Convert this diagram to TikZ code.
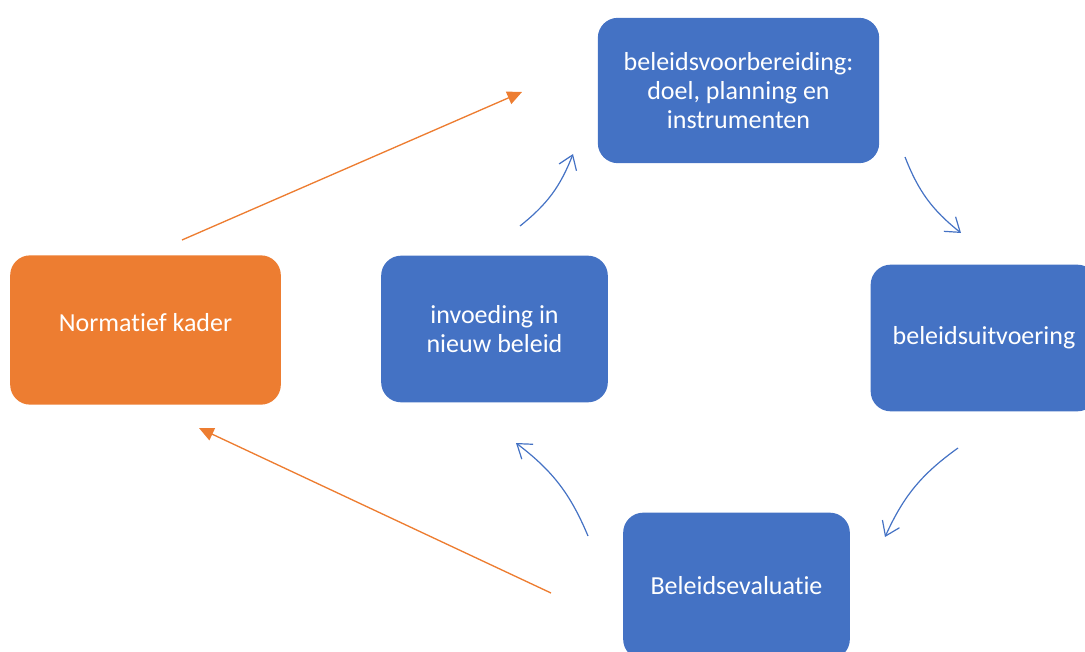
\documentclass[tikz,border=0pt]{standalone}
\usepackage{fontspec}
\setmainfont{Carlito}[Ligatures=NoCommon]
\usetikzlibrary{arrows.meta}
\definecolor{boxblue}{HTML}{4472C4}
\definecolor{boxorange}{HTML}{ED7D31}
\tikzset{
  box/.style={rounded corners=15pt, text=white, align=center, inner sep=0pt,
    font=\fontsize{19.5}{21.75}\selectfont},
  bluebox/.style={box, fill=boxblue},
  orangebox/.style={box, fill=boxorange},
  cyc/.style={draw=boxblue, line width=0.9pt, -{Straight Barb[length=10pt,width=14pt,line width=0.9pt]}},
  feedback/.style={draw=boxorange, line width=1pt, -{Triangle[length=11pt,width=10pt]}},
}
\begin{document}
\begin{tikzpicture}[x=0.75pt,y=-0.75pt]
\useasboundingbox (0,0) rectangle (1085,652);
\node[bluebox, minimum width=211pt, minimum height=109pt] (prep) at (738.5,90.5)
  {beleidsvoorbereiding:\\doel, planning en\\instrumenten};
\node[bluebox, minimum width=170pt, minimum height=110pt] (exec) at (984,338) {beleidsuitvoering};
\node[bluebox, minimum width=170pt, minimum height=110pt] (eval) at (736.5,586) {Beleidsevaluatie};
\node[bluebox, minimum width=170pt, minimum height=110pt] (feed) at (494.5,329) {invoeding in\\nieuw beleid};
\node[orangebox, minimum width=203pt, minimum height=112pt] (norm) at (145.5,330) {};
\node[text=white, font=\fontsize{19.5}{21.75}\selectfont, inner sep=0pt] (normtext) at (145.5,323) {Normatief kader};

\coordinate (a1s) at (520,226); \coordinate (a1e) at (573,154);
\coordinate (a2s) at (905,157); \coordinate (a2e) at (961,233);
\coordinate (a3s) at (958,448); \coordinate (a3e) at (885,537);
\coordinate (a4s) at (588,536); \coordinate (a4e) at (516,443);
\draw[cyc] (a1s) to[bend right=15] (a1e);
\draw[cyc] (a2s) to[bend right=15] (a2e);
\draw[cyc] (a3s) to[bend right=15] (a3e);
\draw[cyc] (a4s) to[bend right=15] (a4e);

\coordinate (o1s) at (182,240); \coordinate (o1e) at (522,92);
\coordinate (o2s) at (551,593); \coordinate (o2e) at (199,428);
\draw[feedback] (o1s) -- (o1e);
\draw[feedback] (o2s) -- (o2e);
\end{tikzpicture}
\end{document}
